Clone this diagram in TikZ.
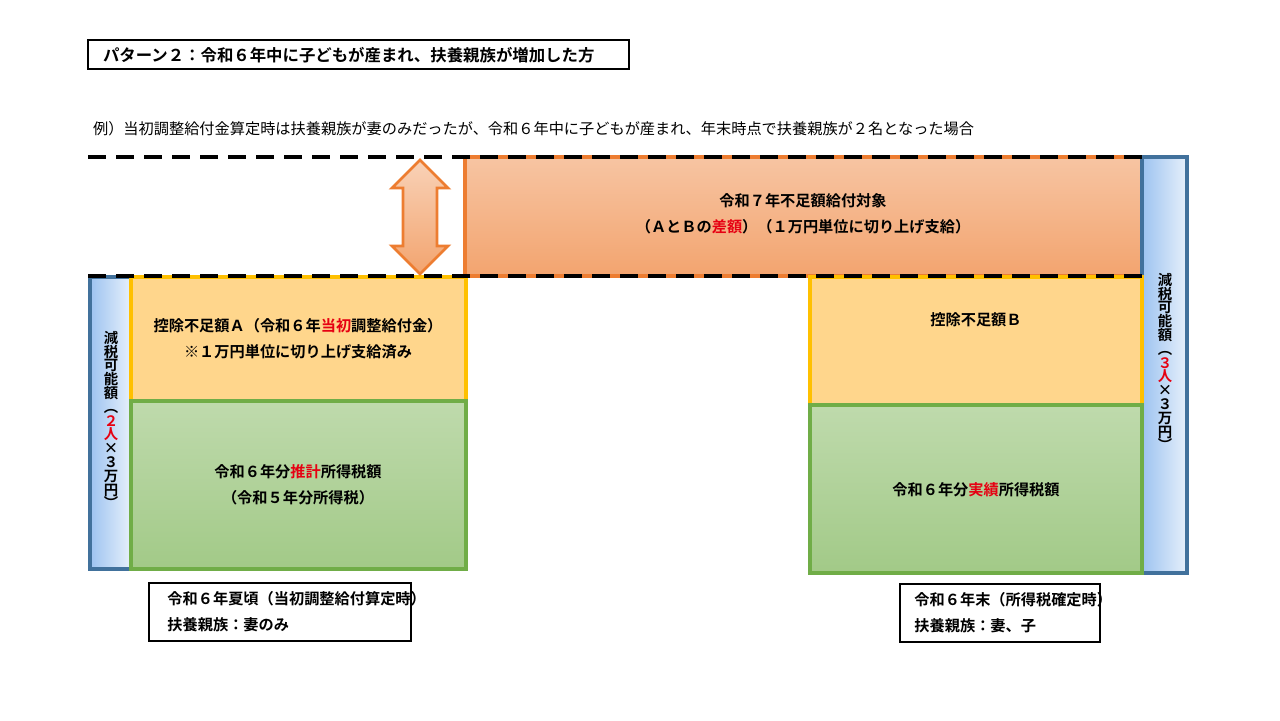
\documentclass[tikz,border=0pt]{standalone}
\usepackage{fontspec}
\newfontfamily\jp{Noto Sans CJK JP}[BoldFont=Noto Sans CJK JP Bold]
\usetikzlibrary{positioning,calc,shapes.arrows}
\definecolor{boxorange}{RGB}{237,125,49}
\definecolor{boxyellow}{RGB}{255,192,0}
\definecolor{yellowfill}{RGB}{255,214,140}
\definecolor{boxgreen}{RGB}{112,173,71}
\definecolor{boxblue}{RGB}{65,113,156}
\definecolor{barblue}{RGB}{157,195,240}
\definecolor{txtred}{RGB}{230,0,18}
\tikzset{
  labelbox/.style={draw,line width=0.6pt,fill=white,align=left,inner sep=0pt},
  yellowbox/.style={draw=boxyellow,line width=1.7pt,fill=yellowfill},
  greenbox/.style={draw=boxgreen,line width=1.7pt,top color=boxgreen!45,bottom color=boxgreen!65},
  bluebar/.style={draw=boxblue,line width=1.7pt,left color=barblue,right color=barblue!25},
  redbox/.style={draw=boxorange,line width=1.7pt,top color=boxorange!45,bottom color=boxorange!70},
  cut/.style={dashed,line width=1.8pt,dash pattern=on 9pt off 5pt},
  boxtext/.style={font=\jp\bfseries\fontsize{7.6}{13}\selectfont,align=center}
}
\newcommand{\red}[1]{\textcolor{txtred}{#1}}
\begin{document}
\begin{tikzpicture}[x=0.5pt,y=-0.5pt,font=\jp\fontsize{7.6}{10}\selectfont]
\useasboundingbox (0,0) rectangle (1280,720);
% header
\draw[line width=0.6pt] (88,40) rectangle (629,69);
\node[anchor=west,font=\jp\bfseries\fontsize{8.2}{9}\selectfont] (title) at (96,55) {パターン２：令和６年中に子どもが産まれ、扶養親族が増加した方};
\node[anchor=west] (case) at (86,129) {例）当初調整給付金算定時は扶養親族が妻のみだったが、令和６年中に子どもが産まれ、年末時点で扶養親族が２名となった場合};
% boxes
\draw[redbox] (465,157) rectangle (1142,276);
\node[boxtext] (diff) at (803,214) {令和７年不足額給付対象\\（ＡとＢの\red{差額}）（１万円単位に切り上げ支給）};
\draw[bluebar] (90,277) rectangle (131,569);
\draw[yellowbox] (131,277) rectangle (466,401);
\draw[greenbox] (131,401) rectangle (466,569);
\draw[bluebar] (1142,157) rectangle (1187,573);
\draw[yellowbox] (810,277) rectangle (1142,405);
\draw[greenbox] (810,405) rectangle (1142,573);
\node[boxtext] (shortA) at (298,339) {控除不足額Ａ（令和６年\red{当初}調整給付金）\\※１万円単位に切り上げ支給済み};
\node[boxtext] (taxA) at (298,485) {令和６年分\red{推計}所得税額\\（令和５年分所得税）};
\node[boxtext] (shortB) at (976,320) {控除不足額Ｂ};
\node[boxtext] (taxB) at (976,490) {令和６年分\red{実績}所得税額};
\node[boxtext,font=\jp\bfseries\fontsize{7.2}{6.9}\selectfont] (limitA) at (111,420)
  {減\\税\\可\\能\\額\\︵\\\red{２}\\\red{人}\\×\\３\\万\\円\\︶};
\node[boxtext,font=\jp\bfseries\fontsize{7.2}{6.9}\selectfont] (limitB) at (1165,362)
  {減\\税\\可\\能\\額\\︵\\\red{３}\\\red{人}\\×\\３\\万\\円\\︶};
% dashed levels
\draw[cut] (88,157) -- (1142,157);
\draw[cut] (88,276) -- (1142,276);
% gap arrow
\node[double arrow,draw=boxorange,line width=1.4pt,top color=boxorange!35,bottom color=boxorange!70,
  rotate=90,minimum height=57pt,minimum width=28pt,double arrow head extend=3pt,inner sep=4pt] (gap) at (420,217) {};
% time labels
\node[labelbox,minimum width=131pt,minimum height=29pt] (whenA) at (280,612) {};
\node[anchor=west,boxtext,align=left] (whenAtxt) at ([xshift=6pt]whenA.west) {令和６年夏頃（当初調整給付算定時）\\扶養親族：妻のみ};
\node[labelbox,minimum width=100pt,minimum height=29pt] (whenB) at (1000,613) {};
\node[anchor=west,boxtext,align=left] (whenBtxt) at ([xshift=4pt]whenB.west) {令和６年末（所得税確定時）\\扶養親族：妻、子};
\end{tikzpicture}
\end{document}
